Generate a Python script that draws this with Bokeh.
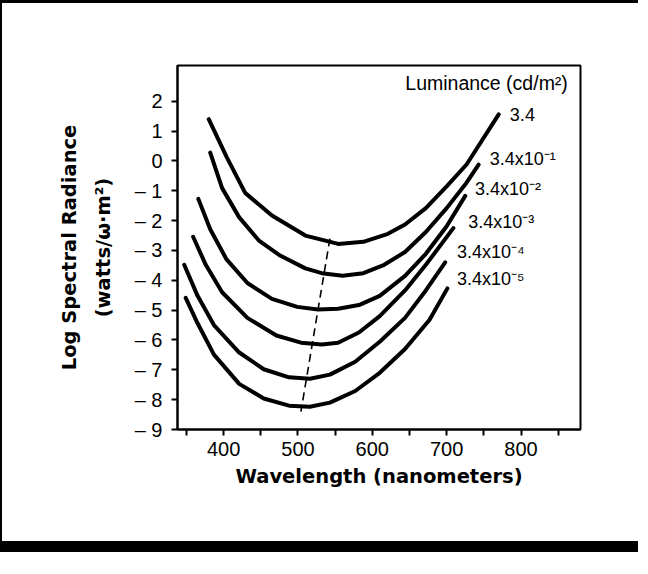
from bokeh.plotting import figure
from bokeh.models import FixedTicker, Label
from bokeh.embed import file_html
from bokeh.resources import INLINE

# ---- data ----
wl_1 = [380, 404, 429, 465, 510, 554, 588, 621, 644, 672, 700, 727, 770]
lr_1 = [1.40, 0.14, -1.07, -1.83, -2.50, -2.78, -2.71, -2.44, -2.13, -1.58, -0.85, -0.11, 1.56]

wl_2 = [382, 398, 421, 448, 476, 510, 532, 560, 588, 616, 644, 672, 700, 727, 743]
lr_2 = [0.28, -0.91, -1.89, -2.68, -3.17, -3.60, -3.76, -3.85, -3.76, -3.48, -3.05, -2.38, -1.58, -0.72, -0.12]

wl_3 = [366, 382, 404, 432, 465, 499, 527, 554, 582, 610, 644, 672, 700, 725]
lr_3 = [-1.27, -2.29, -3.30, -4.09, -4.62, -4.89, -4.98, -4.95, -4.83, -4.52, -3.85, -3.11, -2.19, -1.17]

wl_4 = [359, 376, 398, 432, 471, 504, 532, 554, 582, 610, 644, 672, 709]
lr_4 = [-2.54, -3.48, -4.40, -5.26, -5.85, -6.09, -6.15, -6.09, -5.75, -5.20, -4.34, -3.48, -2.25]

wl_5 = [347, 365, 387, 421, 454, 488, 516, 543, 577, 610, 644, 672, 698]
lr_5 = [-3.48, -4.52, -5.50, -6.42, -6.98, -7.25, -7.30, -7.16, -6.73, -6.06, -5.26, -4.34, -3.40]

wl_6 = [349, 365, 387, 421, 454, 488, 516, 543, 577, 610, 644, 677, 701]
lr_6 = [-4.59, -5.44, -6.49, -7.47, -7.96, -8.20, -8.24, -8.10, -7.71, -7.10, -6.30, -5.32, -4.27]

series_wl = [wl_1, wl_2, wl_3, wl_4, wl_5, wl_6]
series_lr = [lr_1, lr_2, lr_3, lr_4, lr_5, lr_6]
series_names = ["3.4", "3.4x10\u207b\u00b9", "3.4x10\u207b\u00b2", "3.4x10\u207b\u00b3",
                "3.4x10\u207b\u2074", "3.4x10\u207b\u2075"]

peak_wl = [543, 504]
peak_lr = [-2.6, -8.4]

x_ticks = [350, 400, 450, 500, 550, 600, 650, 700, 750, 800, 850]
x_tick_labels = ["", "400", "", "500", "", "600", "", "700", "", "800", ""]
y_ticks = [2, 1, 0, -1, -2, -3, -4, -5, -6, -7, -8, -9]
y_tick_labels = ["2", "1", "0", "\u2013 1", "\u2013 2", "\u2013 3", "\u2013 4", "\u2013 5",
                 "\u2013 6", "\u2013 7", "\u2013 8", "\u2013 9"]

legend_title = "Luminance (cd/m\u00b2)"

# ---- figure ----
p = figure(width=638, height=552, x_range=(338, 880), y_range=(-9, 3.2),
           output_backend="svg", toolbar_location=None,
           min_border_left=175, min_border_right=60, min_border_top=62, min_border_bottom=126)
p.styles = {"border-top": "3px solid black", "border-left": "2px solid black",
            "border-bottom": "11px solid black", "margin-bottom": "-8px"}
p.background_fill_color = "white"
p.border_fill_color = "white"
p.grid.visible = False
p.outline_line_color = "black"
p.outline_line_width = 2

tick_font = "Liberation Sans"
for ax in (p.xaxis[0], p.yaxis[0]):
    ax.axis_line_color = "black"
    ax.axis_line_width = 2
    ax.major_tick_line_width = 2
    ax.major_tick_in = 0
    ax.major_tick_out = 6
    ax.minor_tick_line_color = None
    ax.major_label_text_font = tick_font
    ax.major_label_text_font_size = "20px"
    ax.major_label_text_color = "black"
    ax.axis_label_text_font = "DejaVu Sans"
    ax.axis_label_text_font_style = "bold"
    ax.axis_label_text_font_size = "19.5px"
    ax.axis_label_text_color = "black"

p.xaxis.ticker = FixedTicker(ticks=x_ticks)
p.xaxis.major_label_overrides = {t: s for t, s in zip(x_ticks, x_tick_labels)}
p.xaxis.major_label_standoff = 6
p.xaxis.axis_label = "Wavelength (nanometers)"
p.xaxis.axis_label_standoff = 6

p.yaxis.ticker = FixedTicker(ticks=y_ticks)
p.yaxis.major_label_overrides = {t: s for t, s in zip(y_ticks, y_tick_labels)}
p.yaxis.major_label_standoff = 9
p.yaxis.axis_label = "Log Spectral Radiance\n(watts/\u03c9\u00b7m\u00b2)"
p.yaxis.axis_label_text_line_height = 1.45
p.yaxis.axis_label_standoff = 17

for wl, lr in zip(series_wl, series_lr):
    p.line(wl, lr, line_color="black", line_width=4, line_join="round", line_cap="round")

p.line(peak_wl, peak_lr, line_color="black", line_width=1.6, line_dash="8 5")

label_x = [785, 758, 738, 729, 714, 714]
label_y = [1.56, 0.05, -0.95, -2.05, -3.05, -3.95]
for name, lx, ly in zip(series_names, label_x, label_y):
    p.add_layout(Label(x=lx, y=ly, text=name, text_font="Liberation Sans",
                       text_font_size="18px", text_baseline="middle", text_align="left",
                       text_color="black"))

p.add_layout(Label(x=863, y=2.62, text=legend_title, text_font="Liberation Sans",
                   text_font_size="19.5px", text_baseline="middle", text_align="right",
                   text_color="black"))

open("out.html", "w").write(file_html(p, INLINE))
